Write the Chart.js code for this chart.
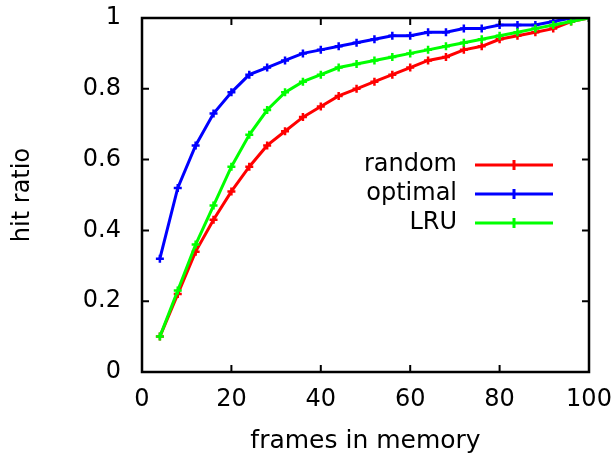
<!DOCTYPE html>
<html>
<head>
<meta charset="utf-8">
<script src="https://cdn.jsdelivr.net/npm/chart.js@4.4.1/dist/chart.umd.min.js"></script>
<style>
  html, body { margin: 0; padding: 0; background: #fff; }
  #wrap { width: 616px; height: 456px; }
</style>
</head>
<body>
<div id="wrap"><canvas id="c" width="616" height="456"></canvas></div>
<script>
const frames = [4, 8, 12, 16, 20, 24, 28, 32, 36, 40, 44, 48, 52, 56, 60, 64, 68, 72, 76, 80, 84, 88, 92, 96, 100];
const randomHit = [0.10, 0.22, 0.34, 0.43, 0.51, 0.58, 0.64, 0.68, 0.72, 0.75, 0.78, 0.80, 0.82, 0.84, 0.86, 0.88, 0.89, 0.91, 0.92, 0.94, 0.95, 0.96, 0.97, 0.99, 1.00];
const optimalHit = [0.32, 0.52, 0.64, 0.73, 0.79, 0.84, 0.86, 0.88, 0.90, 0.91, 0.92, 0.93, 0.94, 0.95, 0.95, 0.96, 0.96, 0.97, 0.97, 0.98, 0.98, 0.98, 0.99, 1.00, 1.00];
const lruHit = [0.10, 0.23, 0.36, 0.47, 0.58, 0.67, 0.74, 0.79, 0.82, 0.84, 0.86, 0.87, 0.88, 0.89, 0.90, 0.91, 0.92, 0.93, 0.94, 0.95, 0.96, 0.97, 0.98, 0.99, 1.00];
const xTicks = [0, 20, 40, 60, 80, 100];
const yTicks = [0, 0.2, 0.4, 0.6, 0.8, 1];

const FONT = "'DejaVu Sans', sans-serif";
Chart.defaults.font.family = FONT;
Chart.defaults.font.size = 24;
Chart.defaults.color = '#000';

function series(label, ys, color, order) {
  return {
    label: label,
    data: frames.map((f, i) => ({ x: f, y: ys[i] })),
    borderColor: color,
    backgroundColor: color,
    borderWidth: 3,
    pointStyle: 'cross',
    pointRadius: 4,
    pointBorderWidth: 2.5,
    pointHoverRadius: 4,
    tension: 0,
    order: order
  };
}

// labels may hang over the plot edge, don't let them push it in
function noPad(s) {
  s.paddingTop = 0; s.paddingBottom = 0; s.paddingLeft = 0; s.paddingRight = 0;
}

// box around the plot with inward ticks, like gnuplot
const frame = {
  id: 'frame',
  afterDatasetsDraw(chart) {
    const { ctx, chartArea: a, scales } = chart;
    ctx.save();
    ctx.strokeStyle = '#000';
    ctx.lineWidth = 2.5;
    ctx.strokeRect(a.left, a.top, a.right - a.left, a.bottom - a.top);
    ctx.lineWidth = 2;
    ctx.beginPath();
    xTicks.forEach(v => {
      const px = scales.x.getPixelForValue(v);
      ctx.moveTo(px, a.bottom); ctx.lineTo(px, a.bottom - 7);
      ctx.moveTo(px, a.top); ctx.lineTo(px, a.top + 7);
    });
    yTicks.forEach(v => {
      const py = scales.y.getPixelForValue(v);
      ctx.moveTo(a.left, py); ctx.lineTo(a.left + 7, py);
      ctx.moveTo(a.right, py); ctx.lineTo(a.right - 7, py);
    });
    ctx.stroke();
    ctx.restore();
  }
};

// gnuplot-style key: text right aligned, line sample with a point on it
const key = {
  id: 'key',
  afterDraw(chart) {
    const ctx = chart.ctx;
    ctx.save();
    ctx.font = '24px ' + FONT;
    ctx.textAlign = 'right';
    ctx.textBaseline = 'middle';
    chart.data.datasets.forEach((ds, row) => {
      const y = 165 + row * 29;
      ctx.fillStyle = '#000';
      ctx.fillText(ds.label, 457, y);
      ctx.strokeStyle = ds.borderColor;
      ctx.lineWidth = 3;
      ctx.beginPath();
      ctx.moveTo(475, y); ctx.lineTo(553, y);
      ctx.moveTo(514, y - 5); ctx.lineTo(514, y + 5);
      ctx.stroke();
    });
    ctx.restore();
  }
};

new Chart(document.getElementById('c'), {
  type: 'line',
  data: {
    datasets: [
      series('random', randomHit, '#ff0000', 3),
      series('optimal', optimalHit, '#0000ff', 2),
      series('LRU', lruHit, '#00ff00', 1)
    ]
  },
  options: {
    responsive: false,
    animation: false,
    events: [],
    layout: { padding: { top: 18, right: 27, left: 0, bottom: 0 } },
    plugins: { legend: { display: false }, tooltip: { enabled: false } },
    scales: {
      x: {
        type: 'linear',
        min: 0, max: 100,
        afterBuildTicks: s => { s.ticks = xTicks.map(v => ({ value: v })); },
        afterFit: s => { s.height = 84; noPad(s); },
        grid: { display: false, drawTicks: false },
        border: { display: false },
        ticks: { padding: 13, maxRotation: 0, autoSkip: false },
        title: { display: true, text: 'frames in memory', font: { size: 25 }, padding: { top: 0, bottom: 0 } }
      },
      y: {
        type: 'linear',
        min: 0, max: 1,
        afterBuildTicks: s => { s.ticks = yTicks.map(v => ({ value: v })); },
        afterFit: s => { s.width = 142; noPad(s); },
        grid: { display: false, drawTicks: false },
        border: { display: false },
        ticks: { padding: 21, autoSkip: false, callback: v => String(v) },
        title: { display: true, text: 'hit ratio', padding: { top: 8, bottom: 0 } }
      }
    }
  },
  plugins: [frame, key]
});
</script>
</body>
</html>
